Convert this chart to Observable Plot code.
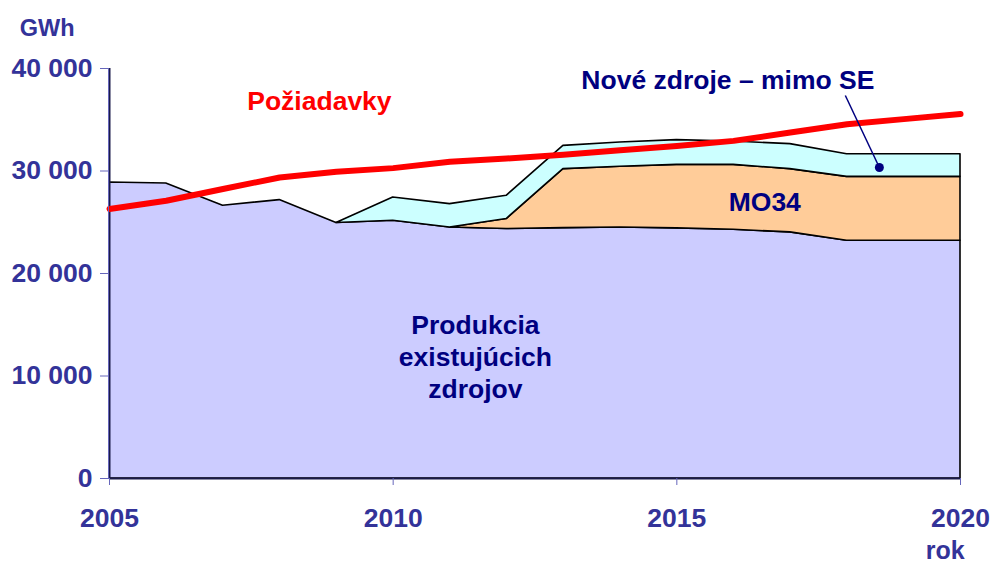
<!DOCTYPE html>
<html>
<head>
<meta charset="utf-8">
<script src="https://cdn.jsdelivr.net/npm/d3@7"></script>
<script src="https://cdn.jsdelivr.net/npm/@observablehq/plot@0.6"></script>
<style>
  html, body { margin: 0; padding: 0; background: #fff; }
  #chart { width: 992px; height: 563px; }
  #chart svg text { font-weight: bold; }
</style>
</head>
<body>
<div id="chart"></div>
<script>
// ---- data (GWh) ----
const years      = [2005, 2006, 2007, 2008, 2009, 2010, 2011, 2012, 2013, 2014, 2015, 2016, 2017, 2018, 2019, 2020];
const existing   = [28880, 28780, 26610, 27160, 24920, 25150, 24490, 24340, 24430, 24490, 24400, 24270, 24010, 23200, 23200, 23200];
const mo34       = [null, null, null, null, null, null, 0, 970, 5750, 5920, 6200, 6330, 6170, 6230, 6230, 6230];
const newSources = [null, null, null, null, 0, 2270, 2280, 2270, 2270, 2370, 2410, 2280, 2440, 2210, 2210, 2210];
const demand     = [26300, 27100, 28240, 29370, 29920, 30280, 30900, 31220, 31580, 32030, 32450, 32940, 33750, 34570, 35060, 35550];
const yTicks = [0, 10000, 20000, 30000, 40000];
const xTicks = [2005, 2010, 2015, 2020];

const rows = years.map((year, i) => ({
  year,
  existing: existing[i],
  mo34Low: existing[i],
  mo34High: mo34[i] == null ? null : existing[i] + mo34[i],
  newLow: newSources[i] == null ? null : existing[i] + (mo34[i] || 0),
  newHigh: newSources[i] == null ? null : existing[i] + (mo34[i] || 0) + newSources[i],
  demand: demand[i]
}));
const mo34Rows = rows.filter(d => d.mo34High != null);
const newRows = rows.filter(d => d.newHigh != null);

const axisColor = "#333399";
const navy = "#000080";
const fmt = d => d3.format(",")(d).replace(/,/g, " ");

const labels = [
  {x: 2008.7, y: 36800, text: "Požiadavky", fill: "#ff0000"},
  {x: 2015.9, y: 38780, text: "Nové zdroje – mimo SE", fill: navy},
  {x: 2016.55, y: 26950, text: "MO34", fill: navy},
  {x: 2011.45, y: 14950, text: "Produkcia", fill: navy},
  {x: 2011.45, y: 11830, text: "existujúcich", fill: navy},
  {x: 2011.45, y: 8710, text: "zdrojov", fill: navy}
];
const pointer = [{x1: 2017.97, y1: 37370, x2: 2018.57, y2: 30340}];

const plot = Plot.plot({
  width: 992,
  height: 563,
  marginLeft: 109,
  marginRight: 32,
  marginTop: 68,
  marginBottom: 85,
  style: {fontFamily: "'Liberation Sans', Arial, sans-serif", background: "#fff", overflow: "visible"},
  x: {domain: [2005, 2020], axis: null},
  y: {domain: [0, 40000], axis: null},
  marks: [
    Plot.areaY(rows, {x: "year", y1: 0, y2: "existing", fill: "#ccccff", stroke: "#000", strokeWidth: 1.6}),
    Plot.areaY(mo34Rows, {x: "year", y1: "mo34Low", y2: "mo34High", fill: "#ffcc99", stroke: "#000", strokeWidth: 1.6}),
    Plot.areaY(newRows, {x: "year", y1: "newLow", y2: "newHigh", fill: "#ccffff", stroke: "#000", strokeWidth: 1.6}),
    Plot.ruleY([0], {stroke: "#1a1a4a", strokeWidth: 2}),
    Plot.ruleX([2005], {stroke: "#1a1a4a", strokeWidth: 2}),
    Plot.line(rows, {x: "year", y: "demand", stroke: "#ff0000", strokeWidth: 6}),
    Plot.ruleX([2005], {y1: 40000, y2: 0, stroke: "#6666bb", strokeWidth: 1, dx: -1}),
    Plot.axisY({ticks: yTicks, tickFormat: fmt, tickSize: 9, tickPadding: 8, stroke: "#6666bb", fill: axisColor, fontSize: 26.5, fontWeight: "bold", label: null}),
    Plot.axisX({ticks: xTicks, tickFormat: d => String(d), tickSize: 7, tickPadding: 23, stroke: "#6666bb", fill: axisColor, fontSize: 26.5, fontWeight: "bold", label: null}),
    Plot.text(["GWh"], {x: 2003.9, y: 43950, text: d => d, fill: axisColor, fontSize: 23.5, fontWeight: "bold"}),
    Plot.text(["rok"], {x: 2019.73, y: -7100, text: d => d, fill: axisColor, fontSize: 25, fontWeight: "bold"}),
    Plot.link(pointer, {x1: "x1", y1: "y1", x2: "x2", y2: "y2", stroke: navy, strokeWidth: 1.5}),
    Plot.dot(pointer, {x: "x2", y: "y2", r: 4.5, fill: navy, stroke: "none"}),
    Plot.text(labels, {x: "x", y: "y", text: "text", fill: "fill", fontSize: 26.5, fontWeight: "bold"})
  ]
});
document.getElementById("chart").appendChild(plot);
</script>
</body>
</html>
